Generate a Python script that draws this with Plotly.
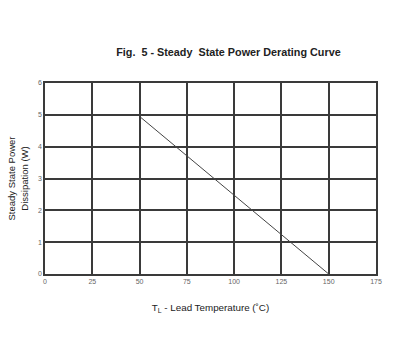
import plotly.graph_objects as go

temp = [50, 150]
power = [4.95, 0]
x_ticks = [0, 25, 50, 75, 100, 125, 150, 175]
y_ticks = [0, 1, 2, 3, 4, 5, 6]

fig = go.Figure()
fig.add_trace(go.Scatter(x=temp, y=power, mode="lines",
                         line=dict(color="#444444", width=1), showlegend=False))

grid = "#3a3a3a"
fig.update_layout(
    width=408, height=354,
    margin=dict(l=45, r=32, t=83, b=80),
    paper_bgcolor="white", plot_bgcolor="white",
    font=dict(family="Liberation Sans, Arial, sans-serif", color="#333333"),
    title=dict(text="<b>Fig.  5 - Steady  State Power Derating Curve</b>",
               x=0.56, xanchor="center", y=0.853, yanchor="middle",
               font=dict(size=10.8, color="#222222")),
    xaxis=dict(range=[0, 175], tickvals=x_ticks, showgrid=True, gridcolor=grid, gridwidth=1.5,
               zeroline=False, showline=True, linecolor=grid, linewidth=1.5, mirror=True,
               ticks="", tickfont=dict(size=7, color="#666666"),
               title=dict(text="T<sub>L</sub> - Lead Temperature (˚C)", standoff=20,
                          font=dict(size=9.8, color="#222222"))),
    yaxis=dict(range=[0, 6], tickvals=y_ticks, showgrid=True, gridcolor=grid, gridwidth=1.5,
               zeroline=False, showline=True, linecolor=grid, linewidth=1.5, mirror=True,
               ticks="", tickfont=dict(size=7, color="#666666"),
               title=dict(text="Steady State Power<br>Dissipation (W)", standoff=8,
                          font=dict(size=9.5, color="#222222"))),
)
fig.write_html("out.html")
